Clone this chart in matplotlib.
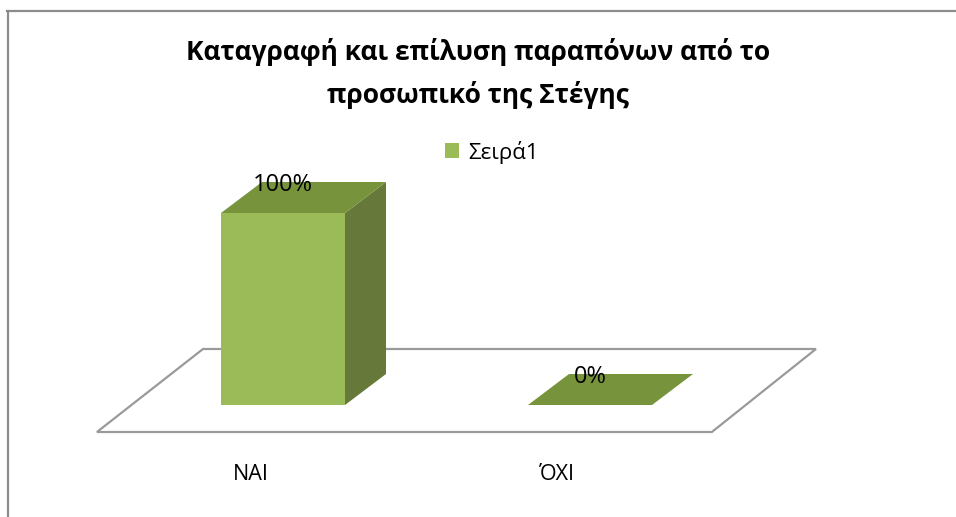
import matplotlib.pyplot as plt
from matplotlib.patches import Polygon, Patch
from matplotlib.lines import Line2D

# ===============================
# DATA
# ===============================
categories = ['ΝΑΙ', 'ΌΧΙ']
values = [100, 0]
value_labels = ['100%', '0%']
series_name = 'Σειρά1'
title = 'Καταγραφή και επίλυση παραπόνων από το\nπροσωπικό της Στέγης'

# colours (Excel green, 3D shading)
C_FRONT = '#9bbb59'
C_TOP = '#77933c'
C_SIDE = '#66793a'
C_FLOOR = '#9a9a9a'
C_BORDER = '#8c8c8c'

plt.rcParams['font.family'] = ['Open Sans', 'DejaVu Sans']

W, H = 956, 517
fig = plt.figure(figsize=(W / 100, H / 100), dpi=100)
ax = fig.add_axes([0, 0, 1, 1])
ax.set_axis_off()

# scale: one category step = 307 px, one percent = 1.92 px
PX_CAT = 307.0
PX_PCT = 1.92
X0, Y0 = 283.0, 405.0          # pixel of category 0 / value 0
ax.set_xlim(-X0 / PX_CAT, (W - X0) / PX_CAT)
ax.set_ylim(-(H - Y0) / PX_PCT, Y0 / PX_PCT)

half = 62 / PX_CAT              # half width of bar front face
ddx = 41 / PX_CAT               # 3D depth offset
ddy = 31 / PX_PCT

# ===============================
# FLOOR
# ===============================
floor = Polygon([(-0.606, -14.06), (1.397, -14.06), (1.736, 29.17), (-0.2606, 29.17)],
                closed=True, facecolor='white', edgecolor=C_FLOOR, lw=1.6, zorder=1)
ax.add_patch(floor)

# ===============================
# BARS
# ===============================
for i, v in enumerate(values):
    l, r = i - half, i + half
    if v > 0:
        ax.add_patch(Polygon([(l, 0), (r, 0), (r, v), (l, v)],
                             facecolor=C_FRONT, edgecolor='none', zorder=3))
        ax.add_patch(Polygon([(r, 0), (r + ddx, ddy), (r + ddx, v + ddy), (r, v)],
                             facecolor=C_SIDE, edgecolor='none', zorder=3))
    ax.add_patch(Polygon([(l, v), (r, v), (r + ddx, v + ddy), (l + ddx, v + ddy)],
                         facecolor=C_TOP, edgecolor='none', zorder=3))
    ax.text(i, v + 14.5, value_labels[i], ha='center', va='center',
            fontsize=17, color='black', zorder=5)

for i, c in enumerate(categories):
    ax.text(i - 0.106, -36, c, ha='center', va='center', fontsize=15.5, color='black')

# ===============================
# TITLE / LEGEND / BORDER
# ===============================
for k, line in enumerate(title.split('\n')):
    fig.text(478 / W, 1 - (60 + 43 * k) / H, line, ha='center', va='baseline',
             fontsize=19, fontweight='bold')

leg = ax.legend(handles=[Patch(facecolor=C_FRONT, edgecolor='none')], labels=[series_name],
                loc='center left', bbox_to_anchor=(445 / W, 1 - 152 / H),
                bbox_transform=fig.transFigure, frameon=False, fontsize=16,
                handlelength=0.65, handleheight=0.65, handletextpad=0.4,
                borderpad=0, borderaxespad=0)

fig.add_artist(Line2D([7.5 / W, 7.5 / W], [0, 1 - 10.5 / H], color=C_BORDER, lw=1.6,
                      transform=fig.transFigure))
fig.add_artist(Line2D([6.7 / W, 1], [1 - 10.5 / H, 1 - 10.5 / H], color=C_BORDER, lw=1.6,
                      transform=fig.transFigure))

plt.savefig('out.png', dpi=100, facecolor='white')
